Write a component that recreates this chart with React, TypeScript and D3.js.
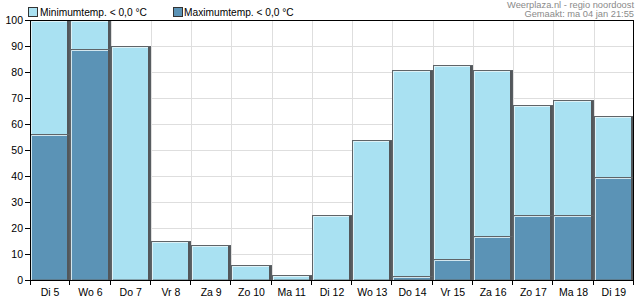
import React from "react";
import * as d3 from "d3";

const categories = ["Di 5", "Wo 6", "Do 7", "Vr 8", "Za 9", "Zo 10", "Ma 11", "Di 12", "Wo 13", "Do 14", "Vr 15", "Za 16", "Zo 17", "Ma 18", "Di 19"];
const minTemp = [100, 100, 90, 15, 13.5, 5.8, 1.9, 25, 53.7, 80.7, 82.6, 80.7, 67.2, 69.1, 63.2];
const maxTemp = [56, 88.7, 0, 0, 0, 0, 0, 0, 0, 1.5, 8, 17, 25, 25, 39.6];
const yTicks = [0, 10, 20, 30, 40, 50, 60, 70, 80, 90, 100];
const legendLabels = ["Minimumtemp. < 0,0 °C", "Maximumtemp. < 0,0 °C"];
const sourceLines = ["Weerplaza.nl - regio noordoost", "Gemaakt: ma 04 jan 21:55"];

const W = 635, H = 300;
const left = 30, right = 634, top = 20, bottom = 280;
const lightColor = "#a9e1f2";
const darkColor = "#5b93b6";
const font = "Liberation Sans, Arial, sans-serif";

function Bar({ x, w, y, h, fill }: { x: number; w: number; y: number; h: number; fill: string }) {
  if (h <= 0) return null;
  return (
    <g>
      <rect x={x + 0.5} y={y + 0.5} width={w - 1} height={h - 0.5} fill={fill} stroke="#5f6468" strokeWidth={1} />
      <path d={`M${x + 1.5},${y + h} V${y + 1.5} H${x + w - 3}`} fill="none" stroke="#e8f4f8" strokeOpacity={0.85} strokeWidth={1} />
      <rect x={x + w - 3} y={y + 1} width={2.5} height={h - 1} fill="#52575b" />
    </g>
  );
}

export default function App() {
  const x = d3.scaleBand<string>().domain(categories).range([left, right]).padding(0);
  const y = d3.scaleLinear().domain([0, 100]).range([bottom, top]);
  const bw = x.bandwidth();
  return (
    <svg width={W} height={H} style={{ position: "absolute", left: 0, top: 0, background: "#fff" }} fontFamily={font}>
      {yTicks.map((t) => (
        <line key={"gy" + t} x1={left} x2={right} y1={Math.round(y(t)) + 0.5} y2={Math.round(y(t)) + 0.5} stroke="#dedede" />
      ))}
      {categories.map((c) => (
        <line key={"gx" + c} x1={Math.round(x(c)!) + 0.5} x2={Math.round(x(c)!) + 0.5} y1={top} y2={bottom} stroke="#dedede" />
      ))}
      {categories.map((c, i) => {
        const bx = Math.round(x(c)!);
        const bx2 = Math.round(x(c)! + bw);
        const w = bx2 - bx;
        const ym = Math.round(y(minTemp[i]));
        const yM = Math.round(y(maxTemp[i]));
        return (
          <g key={c}>
            <Bar x={bx} w={w} y={ym} h={bottom - ym} fill={lightColor} />
            <Bar x={bx} w={w} y={yM} h={bottom - yM} fill={darkColor} />
          </g>
        );
      })}
      <line x1={left} x2={right} y1={top + 0.5} y2={top + 0.5} stroke="#000" />
      <line x1={right - 0.5} x2={right - 0.5} y1={top} y2={bottom} stroke="#000" />
      <line x1={left + 0.5} x2={left + 0.5} y1={top} y2={bottom + 1} stroke="#000" />
      <line x1={left - 5} x2={right} y1={bottom + 0.5} y2={bottom + 0.5} stroke="#000" />
      {yTicks.map((t) => (
        <g key={"yt" + t}>
          <line x1={left - 5} x2={left} y1={Math.round(y(t)) + 0.5} y2={Math.round(y(t)) + 0.5} stroke="#000" />
          <text x={left - 7} y={y(t) + 4} fontSize={10.5} textAnchor="end" fill="#000">{t}</text>
        </g>
      ))}
      {[...categories.map((c) => x(c)!), right].map((v, i) => (
        <line key={"xt" + i} x1={Math.round(v) - 0.5 + (i === 0 ? 1 : 0)} x2={Math.round(v) - 0.5 + (i === 0 ? 1 : 0)} y1={bottom} y2={bottom + 5} stroke="#000" />
      ))}
      {categories.map((c) => (
        <text key={"xl" + c} x={x(c)! + bw / 2} y={296} fontSize={10.5} textAnchor="middle" fill="#000">{c}</text>
      ))}
      <rect x={28.5} y={7.5} width={9} height={9} fill={lightColor} stroke="#333" />
      <text x={40} y={16} fontSize={10.2} fill="#000">{legendLabels[0]}</text>
      <rect x={173.5} y={7.5} width={9} height={9} fill={darkColor} stroke="#333" />
      <text x={184} y={16} fontSize={10.2} fill="#000">{legendLabels[1]}</text>
      <text x={634} y={7.5} fontSize={9.3} textAnchor="end" fill="#8a8a8a">{sourceLines[0]}</text>
      <text x={634} y={17} fontSize={9.3} textAnchor="end" fill="#8a8a8a">{sourceLines[1]}</text>
    </svg>
  );
}
